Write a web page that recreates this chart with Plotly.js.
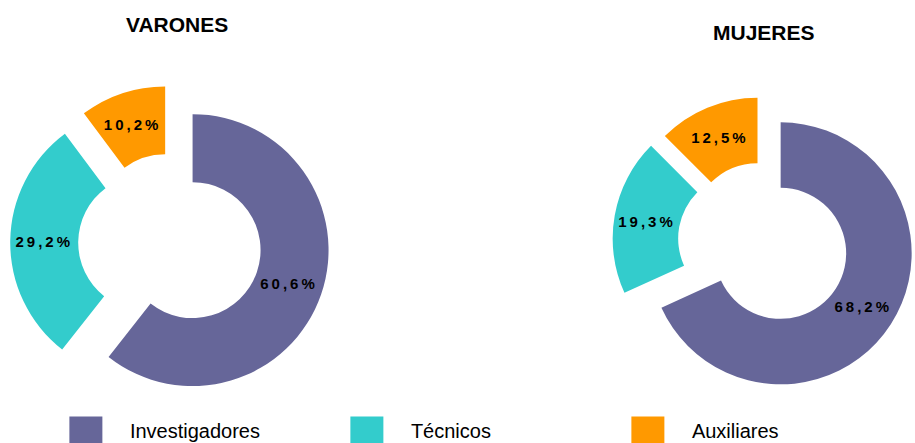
<!DOCTYPE html>
<html>
<head>
<meta charset="utf-8">
<script src="https://cdn.plot.ly/plotly-3.0.1.min.js"></script>
<style>
  html, body { margin: 0; padding: 0; background: #fff; overflow: hidden; }
  #chart { width: 915px; height: 443px; }
  text.slicetext { letter-spacing: 3px; }
  path.legendpie { transform: translate(20px, 0px) scale(2.75, 2.2); }
  text.legendtext { transform: translate(24px, 0px); }
</style>
</head>
<body>
<div id="chart"></div>
<script>
// ---- data ----
const categories = ['Investigadores', 'Técnicos', 'Auxiliares'];
const varonesValues = [60.6, 29.2, 10.2];
const mujeresValues = [68.2, 19.3, 12.5];
const chartTitles = ['VARONES', 'MUJERES'];
const sliceColors = ['#666699', '#33CCCC', '#FF9900'];

const labelFont = { family: 'Arial, "Liberation Sans", sans-serif', size: 15, color: '#000', weight: 'bold' };

const common = {
  type: 'pie',
  labels: categories,
  sort: false,
  direction: 'clockwise',
  rotation: 0,
  hole: 0.5,
  marker: { colors: sliceColors, line: { width: 0 } },
  texttemplate: '%{value:.1f}%',
  textposition: 'inside',
  insidetextorientation: 'horizontal',
  insidetextfont: labelFont,
  textfont: labelFont,
  hoverinfo: 'label+value'
};

const traces = [
  Object.assign({}, common, {
    values: varonesValues,
    pull: [0.16, 0.19, 0.16],
    domain: { x: [0.005, 0.371], y: [0.0862, 0.8167] },
    showlegend: true
  }),
  Object.assign({}, common, {
    values: mujeresValues,
    pull: [0.16, 0.15, 0.11],
    domain: { x: [0.6678, 1.0], y: [0.1106, 0.7968] },
    showlegend: true
  })
];

const titleFont = { family: 'Arial, "Liberation Sans", sans-serif', size: 21, color: '#000', weight: 'bold' };

const layout = {
  width: 915,
  height: 443,
  margin: { l: 0, r: 0, t: 0, b: 0, autoexpand: false },
  paper_bgcolor: '#fff',
  plot_bgcolor: '#fff',
  separators: ',.',
  showlegend: true,
  legend: {
    orientation: 'h',
    x: 0.072, xanchor: 'left',
    y: 0.03, yanchor: 'middle',
    entrywidth: 236,
    font: { family: 'Arial, "Liberation Sans", sans-serif', size: 20, color: '#000' },
    bgcolor: 'rgba(0,0,0,0)'
  },
  annotations: [
    { text: chartTitles[0], x: 0.1935, y: 0.9447, xref: 'paper', yref: 'paper',
      xanchor: 'center', yanchor: 'middle', showarrow: false, font: titleFont },
    { text: chartTitles[1], x: 0.835, y: 0.9266, xref: 'paper', yref: 'paper',
      xanchor: 'center', yanchor: 'middle', showarrow: false, font: titleFont }
  ]
};

Plotly.newPlot('chart', traces, layout, { staticPlot: true, displayModeBar: false });
</script>
</body>
</html>
